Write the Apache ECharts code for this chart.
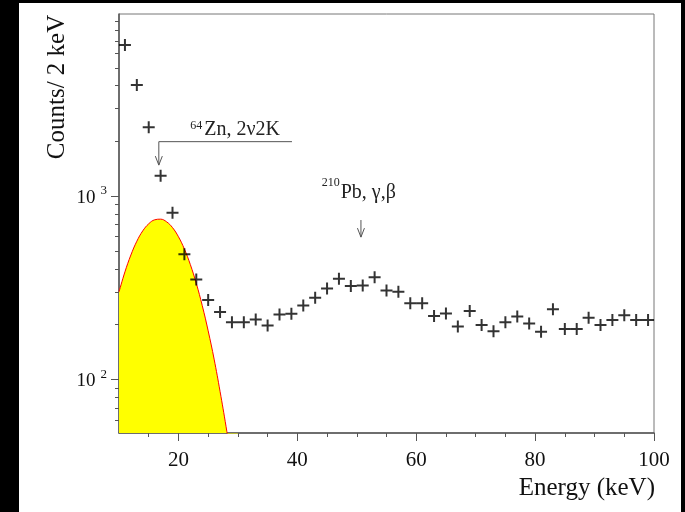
<!DOCTYPE html>
<html><head><meta charset="utf-8">
<script src="https://cdn.jsdelivr.net/npm/echarts@6/dist/echarts.min.js"></script>
<style>
html,body{margin:0;padding:0;background:#000;width:685px;height:512px;overflow:hidden}
#c{position:absolute;left:19px;top:3px;width:662px;height:509px;background:#fff}
</style></head><body><div id="c"></div>
<script>
// ---- data ----
const energyBins = [11,13,15,17,19,21,23,25,27,29,31,33,35,37,39,41,43,45,47,49,51,53,55,57,59,61,63,65,67,69,71,73,75,77,79,81,83,85,87,89,91,93,95,97,99];
const counts = [6670,4030,2370,1290,811,481,351,271,233,205,205,212,197,226,228,253,279,313,354,323,325,361,305,301,260,260,222,229,194,236,198,183,205,220,202,182,241,188,188,217,198,211,224,211,211];
const fitEnergy = [10,11,12,13,14,15,16,17,18,19,20,21,22,23,24,25,26,27,28,29,30];
const fitCounts = [300,386,477,567,646,706,742,748,724,673,600,514,423,334,253,184,129,86,55.5,34.5,20.7];
const xMajorTicks = [20,40,60,80,100];
const xMinorTicks = [15,25,30,35,45,50,55,65,70,75,85,90,95];
const yMajorTicks = [100,1000];
const yMinorTicks = [60,70,80,90,200,300,400,500,600,700,800,900,2000,3000,4000,5000,6000,7000,8000,9000];
const xRange = [10,100];
const yRange = [51,9840];
const znLine = {x0:16.7, x1:39.1, y:1980, yTip:1475, labelX:22.0};
const pbArrow = {x:50.7, yTop:740, yTip:597, labelX:44.1, labelY:975};

const FONT = '"Liberation Serif", "DejaVu Serif", serif';
const chart = echarts.init(document.getElementById('c'), null, {renderer:'canvas'});
const plus = 'path://M5,0H7V5H12V7H7V12H5V7H0V5H5Z';
const axisCol = '#555';
const supFmt = v => { const e = Math.round(Math.log10(v)); return '{b|10}{s|' + e + '}'; };

chart.setOption({
  backgroundColor:'#fff',
  animation:false,
  grid:{left:100, right:27, top:11, bottom:79, show:true, borderColor:'#777', borderWidth:1, backgroundColor:'transparent'},
  xAxis:[
    {type:'value', min:xRange[0], max:xRange[1], position:'bottom',
     axisLine:{show:true, lineStyle:{color:axisCol, width:1.5}},
     axisTick:{show:true, inside:false, length:8, customValues:xMajorTicks, lineStyle:{color:axisCol}},
     axisLabel:{show:true, customValues:xMajorTicks, margin:17, color:'#111', fontFamily:FONT, fontSize:21},
     splitLine:{show:false}},
    {type:'value', min:xRange[0], max:xRange[1], position:'bottom',
     axisLine:{show:false},
     axisTick:{show:true, inside:false, length:4, customValues:xMinorTicks, lineStyle:{color:axisCol}},
     axisLabel:{show:false}, splitLine:{show:false}}
  ],
  yAxis:[
    {type:'log', logBase:10, min:yRange[0], max:yRange[1], position:'left',
     axisLine:{show:true, lineStyle:{color:axisCol, width:1.5}},
     axisTick:{show:true, inside:false, length:8, customValues:yMajorTicks, lineStyle:{color:axisCol}},
     axisLabel:{show:true, customValues:yMajorTicks, margin:12, formatter:supFmt,
       rich:{b:{fontFamily:FONT, fontSize:19, color:'#111', verticalAlign:'bottom'},
             s:{fontFamily:FONT, fontSize:13, color:'#111', verticalAlign:'bottom', padding:[0,0,10,5]}}},
     splitLine:{show:false}},
    {type:'log', logBase:10, min:yRange[0], max:yRange[1], position:'left',
     axisLine:{show:false},
     axisTick:{show:true, inside:false, length:4, customValues:yMinorTicks, lineStyle:{color:axisCol}},
     axisLabel:{show:false}, splitLine:{show:false}}
  ],
  series:[
    {type:'line', name:'fit', xAxisIndex:0, yAxisIndex:0, data:fitEnergy.map((e,i)=>[e,fitCounts[i]]),
     smooth:0.4, showSymbol:false, clip:true,
     lineStyle:{color:'#ff0000', width:1}, areaStyle:{color:'#ffff00', opacity:1}, z:1},
    {type:'scatter', name:'data', xAxisIndex:0, yAxisIndex:0, data:energyBins.map((e,i)=>[e,counts[i]]),
     symbol:plus, symbolSize:12, itemStyle:{color:'#000'}, z:3}
  ]
});

function pt(x,y){ return chart.convertToPixel({xAxisIndex:0, yAxisIndex:0}, [x,y]); }
const A = pt(znLine.x0, znLine.y), B = pt(znLine.x1, znLine.y), C = pt(znLine.x0, znLine.yTip);
const P0 = pt(pbArrow.x, pbArrow.yTop), P1 = pt(pbArrow.x, pbArrow.yTip);
const znL = pt(znLine.labelX, znLine.y), pbL = pt(pbArrow.labelX, pbArrow.labelY);
const lineStyle = {stroke:'#555', lineWidth:1, fill:null};
const head = (p)=>[[p[0]-3.5,p[1]-9],[p[0],p[1]],[p[0]+3.5,p[1]-9]];

chart.setOption({graphic:[
  {type:'polyline', shape:{points:[B,A,C]}, style:lineStyle, z:10},
  {type:'polyline', shape:{points:head(C)}, style:lineStyle, z:10},
  {type:'text', x:znL[0], y:A[1]-22, style:{text:'64', font:'12px '+FONT, fill:'#222', textAlign:'left', textVerticalAlign:'top'}, z:10},
  {type:'text', x:znL[0]+14, y:A[1]-2, style:{text:'Zn, 2ν2K', font:'20px '+FONT, fill:'#222', textAlign:'left', textVerticalAlign:'bottom'}, z:10},
  {type:'polyline', shape:{points:[P0,P1]}, style:lineStyle, z:10},
  {type:'polyline', shape:{points:head(P1)}, style:lineStyle, z:10},
  {type:'text', x:pbL[0], y:pbL[1]-21, style:{text:'210', font:'12px '+FONT, fill:'#222', textAlign:'left', textVerticalAlign:'top'}, z:10},
  {type:'text', x:pbL[0]+19, y:pbL[1]+5, style:{text:'Pb, γ,β', font:'20px '+FONT, fill:'#222', textAlign:'left', textVerticalAlign:'bottom'}, z:10},
  {type:'text', x:38, y:84, rotation:Math.PI/2, style:{text:'Counts/ 2 keV', font:'25px '+FONT, fill:'#111', textAlign:'center', textVerticalAlign:'middle'}, z:10},
  {type:'text', x:636, y:485, style:{text:'Energy (keV)', font:'25px '+FONT, fill:'#111', textAlign:'right', textVerticalAlign:'middle'}, z:10}
]});
</script></body></html>
